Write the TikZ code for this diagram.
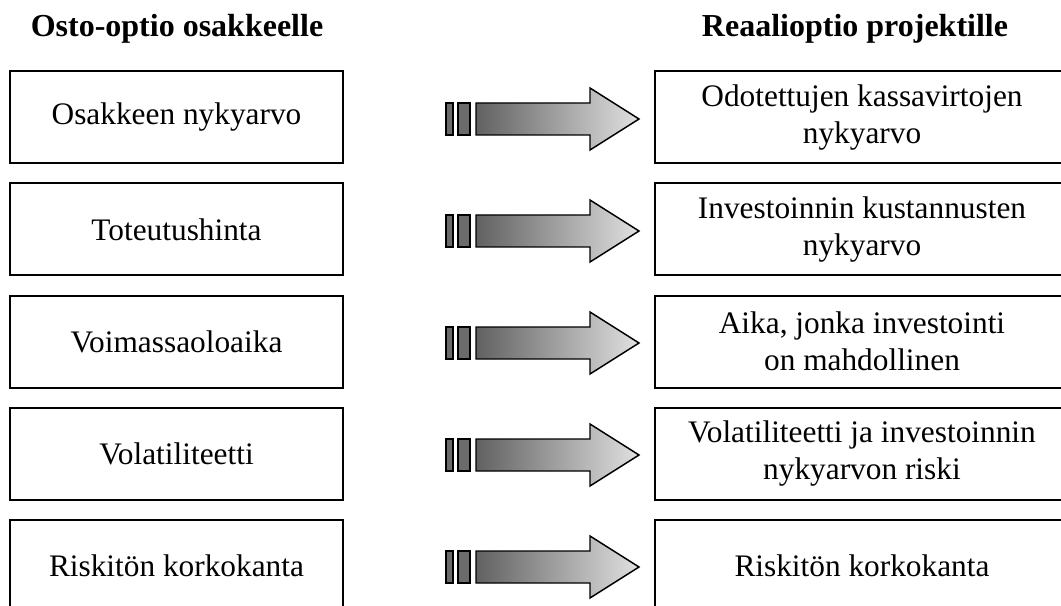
\documentclass[tikz,border=0pt]{standalone}
\usepackage{fontspec}
\setmainfont{Liberation Serif}
\usetikzlibrary{positioning}
\begin{document}
\begin{tikzpicture}[x=0.75pt,y=-0.75pt,
  optbox/.style={draw=black,line width=1.5pt,minimum height=69pt,align=center,font=\fontsize{23.5}{27.75}\selectfont},
  head/.style={font=\fontsize{24}{28}\selectfont\bfseries}]
\clip (0,0) rectangle (1061,606);
\node[head] (hl) at (177,29) {Osto-optio osakkeelle};
\node[head] (hr) at (855,29) {Reaalioptio projektille};
\foreach \i/\a/\b in {1/{Osakkeen nykyarvo}/{Odotettujen kassavirtojen\\nykyarvo},
  2/{Toteutushinta}/{Investoinnin kustannusten\\nykyarvo},
  3/{Voimassaoloaika}/{Aika, jonka investointi\\on mahdollinen},
  4/{Volatiliteetti}/{Volatiliteetti ja investoinnin\\nykyarvon riski},
  5/{Riskit\"on korkokanta}/{Riskit\"on korkokanta}}
{
  \node[optbox,minimum width=249.75pt] (l\i) at (176.5,{117.5+112*(\i-1)}) {\a};
  \node[optbox,minimum width=310.5pt] (r\i) at (862,{117.5+112*(\i-1)}) {\b};
  \begin{scope}[shift={(0,{119+112*(\i-1)})}]
    \filldraw[fill=black!58,line width=1.1pt] (446,-16) rectangle (453,16);
    \filldraw[fill=black!58,line width=1.1pt] (458,-16) rectangle (470,16);
    \draw[line width=1.1pt,line join=miter,left color=black!62,right color=black!12]
      (476,-16) -- (590,-16) -- (590,-31) -- (639,0) -- (590,31) -- (590,16) -- (476,16) -- cycle;
  \end{scope}
}
\end{tikzpicture}
\end{document}
